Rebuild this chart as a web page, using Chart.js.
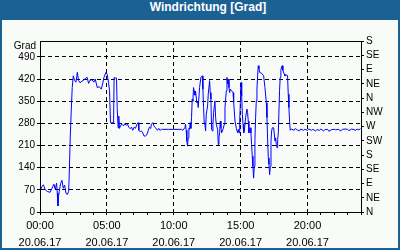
<!DOCTYPE html>
<html>
<head>
<meta charset="utf-8">
<script src="https://cdn.jsdelivr.net/npm/chart.js@4/dist/chart.umd.min.js"></script>
<style>
  html, body { margin: 0; padding: 0; }
  #frame {
    position: relative;
    width: 400px;
    height: 250px;
    background: #1c6194;
    box-sizing: border-box;
    overflow: hidden;
  }
  #title {
    height: 20px;
    line-height: 21px;
    text-align: center;
    color: #fff;
    font: bold 12px "Liberation Sans", Arial, sans-serif;
    padding-left: 16px;
  }
  #plot {
    position: absolute;
    left: 2px;
    top: 20px;
    width: 396px;
    height: 228px;
    background: #f8fbf8;
  }
</style>
</head>
<body>
<div id="frame">
  <div id="title">Windrichtung [Grad]</div>
  <div id="plot"><canvas id="wind-chart" width="396" height="228"></canvas></div>
</div>
<script>
// Time of day in hours (20.06.17)
const hours = [
  0.00, 0.15, 0.25, 0.40, 0.55, 0.75, 0.90, 1.04, 1.14, 1.24, 1.29, 1.34, 1.39, 1.44, 1.54, 1.64,
  1.74, 1.84, 1.94, 2.04, 2.14, 2.19, 2.26, 2.34, 2.41, 2.49, 2.59, 2.69, 2.79, 2.89, 2.99, 3.13,
  3.28, 3.43, 3.53, 3.63, 3.73, 3.88, 4.03, 4.13, 4.28, 4.43, 4.58, 4.68, 4.78, 4.93, 5.02, 5.12,
  5.20, 5.27, 5.37, 5.50, 5.54, 5.62, 5.72, 5.77, 5.84, 5.89, 5.94, 6.04, 6.14, 6.24, 6.34, 6.44,
  6.54, 6.64, 6.74, 6.84, 6.94, 7.04, 7.14, 7.24, 7.34, 7.39, 7.49, 7.58, 7.68, 7.78, 7.88, 7.98,
  8.08, 8.18, 8.28, 8.33, 8.43, 8.53, 8.63, 8.78, 8.88, 8.98, 9.08, 9.18, 9.60, 10.00, 10.58, 10.68,
  10.83, 10.88, 10.93, 10.98, 11.03, 11.08, 11.13, 11.18, 11.23, 11.28, 11.33, 11.38, 11.43, 11.48,
  11.53, 11.58, 11.63, 11.73, 11.78, 11.83, 11.93, 12.03, 12.13, 12.18, 12.23, 12.28, 12.33, 12.38,
  12.43, 12.53, 12.58, 12.68, 12.73, 12.78, 12.83, 12.88, 12.93, 12.98, 13.08, 13.13, 13.18, 13.28,
  13.33, 13.38, 13.43, 13.48, 13.53, 13.58, 13.68, 13.78, 13.83, 13.93, 13.98, 14.03, 14.08, 14.13,
  14.18, 14.23, 14.33, 14.43, 14.48, 14.58, 14.68, 14.78, 14.83, 14.88, 14.93, 14.98, 15.03, 15.08,
  15.13, 15.18, 15.23, 15.28, 15.37, 15.47, 15.52, 15.57, 15.62, 15.67, 15.72, 15.77, 15.82, 15.87,
  15.92, 15.97, 16.02, 16.07, 16.12, 16.17, 16.22, 16.27, 16.32, 16.37, 16.42, 16.57, 16.72, 16.82,
  16.92, 16.97, 17.02, 17.07, 17.12, 17.17, 17.22, 17.27, 17.32, 17.37, 17.47, 17.57, 17.62, 17.67,
  17.72, 17.77, 17.82, 17.91, 17.96, 18.01, 18.06, 18.11, 18.16, 18.26, 18.31, 18.46, 18.51, 18.56,
  18.61, 18.66, 18.71, 18.80, 19.00, 19.10, 19.20, 19.40, 19.50, 19.70, 19.80, 20.00, 20.10, 20.30,
  20.40, 20.60, 20.70, 20.90, 21.00, 21.20, 21.30, 21.50, 21.60, 21.80, 22.00, 22.10, 22.30, 22.50,
  22.60, 22.80, 23.00, 23.10, 23.30, 23.40, 23.60, 23.70, 23.85, 23.95
];

// Wind direction in degrees
const degrees = [
  67, 80, 86, 70, 65, 62, 75, 88, 72, 91, 60, 19, 50, 65, 90, 100,
  75, 85, 60, 55, 65, 123, 234, 325, 393, 430, 415, 410, 441, 415, 408, 413,
  417, 423, 425, 406, 415, 418, 410, 420, 393, 396, 388, 404, 425, 441, 435, 410,
  383, 282, 282, 282, 425, 423, 423, 330, 266, 303, 264, 274, 277, 272, 279, 274,
  277, 268, 263, 268, 258, 268, 264, 277, 282, 258, 254, 256, 250, 240, 240, 243,
  256, 268, 264, 277, 282, 271, 266, 258, 264, 258, 261, 261, 261, 261, 261, 258,
  266, 277, 258, 224, 208, 234, 264, 261, 282, 264, 298, 356, 350, 393,
  382, 369, 382, 345, 350, 330, 393, 425, 430, 388, 330, 282, 277, 256,
  308, 335, 372, 415, 377, 356, 261, 256, 277, 314, 351, 298, 277, 261,
  213, 234, 250, 287, 266, 250, 261, 277, 330, 383, 425, 404, 420, 393,
  377, 388, 383, 377, 346, 287, 264, 250, 261, 250, 287, 346, 409, 367,
  308, 277, 250, 256, 298, 325, 314, 287, 250, 261, 266, 250, 213, 176,
  144, 107, 144, 229, 298, 351, 388, 430, 462, 452, 441, 438, 430, 393,
  345, 298, 224, 171, 150, 118, 144, 224, 256, 266, 266, 224, 234, 213,
  203, 229, 250, 383, 425, 447, 459, 462, 447, 436, 430, 433, 430, 372,
  330, 287, 258, 262, 258, 264, 260, 256, 262, 258, 261, 258, 262, 258,
  261, 256, 260, 258, 262, 256, 260, 261, 255, 260, 261, 260, 261, 256,
  261, 262, 261, 257, 262, 261, 258, 262, 259, 264
];

// Axes
const leftTicks = [0, 70, 140, 210, 280, 350, 420, 490];
const unitLabel = 'Grad';
const compassLabels = ['N', 'NE', 'E', 'SE', 'S', 'SW', 'W', 'NW', 'N', 'NE', 'E', 'SE', 'S'];
const compassStep = 45;
const xTickHours = [0, 5, 10, 15, 20];
const xTickLabels = ['00:00', '05:00', '10:00', '15:00', '20:00'];
const dateLabel = '20.06.17';

const fontFamily = '"Liberation Sans", Arial, sans-serif';
const dash = [4, 3];

// frame around plot + unit label above left axis
const framePlugin = {
  id: 'frame',
  afterDraw(chart) {
    const { ctx, chartArea } = chart;
    ctx.save();
    ctx.strokeStyle = '#000';
    ctx.lineWidth = 1;
    ctx.strokeRect(Math.round(chartArea.left) + 0.5, Math.round(chartArea.top) + 0.5,
      Math.round(chartArea.right - chartArea.left), Math.round(chartArea.bottom - chartArea.top));
    ctx.fillStyle = '#000';
    ctx.font = '10px ' + fontFamily;
    ctx.textAlign = 'right';
    ctx.textBaseline = 'middle';
    ctx.fillText(unitLabel, chartArea.left - 4, chartArea.top + 5);
    ctx.restore();
  }
};

const ctx = document.getElementById('wind-chart').getContext('2d');
new Chart(ctx, {
  type: 'line',
  data: {
    datasets: [{
      data: hours.map((h, i) => ({ x: h, y: degrees[i] })),
      borderColor: '#0000ff',
      borderWidth: 1,
      pointRadius: 0,
      tension: 0,
      fill: false,
      yAxisID: 'y'
    }]
  },
  options: {
    responsive: false,
    animation: false,
    events: [],
    layout: { padding: { top: 21, left: 0, right: 0, bottom: 0 } },
    plugins: { legend: { display: false }, tooltip: { enabled: false }, title: { display: false } },
    scales: {
      x: {
        type: 'linear',
        min: 0,
        max: 24,
        afterFit: (scale) => { scale.height = 36; },
        afterBuildTicks: (scale) => {
          scale.ticks = [];
          for (let h = 0; h <= 24; h++) scale.ticks.push({ value: h });
        },
        ticks: {
          autoSkip: false,
          maxRotation: 0,
          padding: 3,
          color: '#000',
          font: { family: fontFamily, size: 11, lineHeight: 1.5 },
          callback: (v) => {
            const i = xTickHours.indexOf(v);
            return i >= 0 ? [xTickLabels[i], dateLabel] : '';
          }
        },
        grid: {
          color: (c) => (c.tick && xTickHours.includes(c.tick.value) && c.tick.value !== 0) ? '#000' : 'rgba(0,0,0,0)',
          tickColor: '#000',
          tickLength: 3,
          tickBorderDash: [],
          lineWidth: 1
        },
        border: { display: true, color: '#000', width: 1, dash: dash }
      },
      y: {
        position: 'left',
        min: 0,
        max: 540,
        afterFit: (scale) => { scale.width = 38; },
        afterBuildTicks: (scale) => { scale.ticks = leftTicks.map(v => ({ value: v })); },
        ticks: {
          autoSkip: false,
          padding: 2,
          color: '#000',
          font: { family: fontFamily, size: 10 }
        },
        grid: {
          color: (c) => (c.tick && c.tick.value !== 0) ? '#000' : 'rgba(0,0,0,0)',
          tickColor: '#000',
          tickLength: 3,
          tickBorderDash: [],
          lineWidth: 1
        },
        border: { display: true, color: '#000', width: 1, dash: dash }
      },
      y2: {
        position: 'right',
        min: 0,
        max: 540,
        afterFit: (scale) => { scale.width = 37; },
        afterBuildTicks: (scale) => { scale.ticks = compassLabels.map((l, i) => ({ value: i * compassStep })); },
        ticks: {
          autoSkip: false,
          padding: 2,
          color: '#000',
          font: { family: fontFamily, size: 10 },
          callback: (v) => compassLabels[Math.round(v / compassStep)]
        },
        grid: {
          drawOnChartArea: false,
          color: '#000',
          tickColor: '#000',
          tickLength: 3
        },
        border: { display: true, color: '#000', width: 1 }
      }
    }
  },
  plugins: [framePlugin]
});
</script>
</body>
</html>
